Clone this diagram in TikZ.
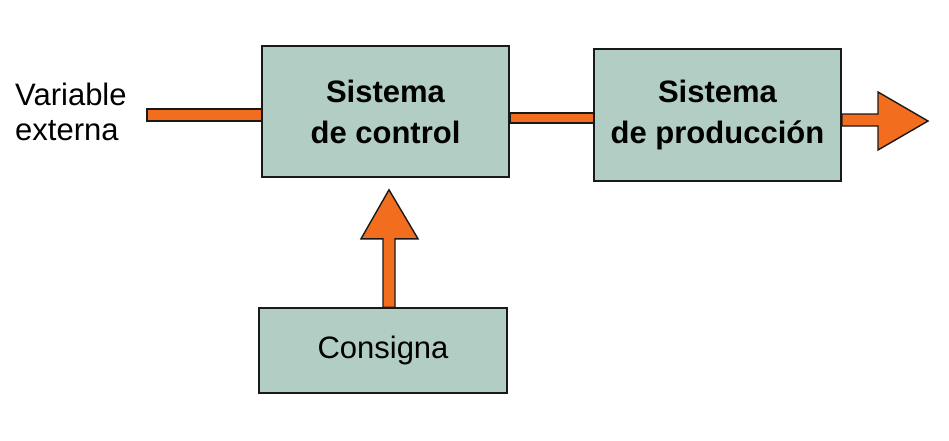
\documentclass[tikz,border=0pt]{standalone}
\usepackage{fontspec}
\setmainfont{Liberation Sans}
\usetikzlibrary{calc}
\definecolor{boxfill}{RGB}{178,206,196}
\definecolor{arrorange}{RGB}{242,110,30}
\tikzset{
  blockbox/.style={draw=black!90, line width=1.6pt, fill=boxfill, inner sep=0pt, align=center},
  bar/.style={draw=black!90, line width=1.4pt, fill=arrorange, line join=miter},
  boldtxt/.style={font=\bfseries\fontsize{31}{41}\selectfont},
  plaintxt/.style={font=\fontsize{31}{35}\selectfont}
}
\begin{document}
\begin{tikzpicture}[x=1pt,y=-1pt]
\useasboundingbox (0,0) rectangle (949,440);
\fill[white] (0,0) rectangle (949,440);
% node placeholders (for anchors)
\path (385.5,111.5) node[blockbox, minimum width=247pt, minimum height=131pt, draw=none, fill=none] (b1) {};
\path (717.5,115) node[blockbox, minimum width=247pt, minimum height=132pt, draw=none, fill=none] (b2) {};
\path (383,350.5) node[blockbox, minimum width=248pt, minimum height=85pt, draw=none, fill=none] (b3) {};
\coordinate (vin) at (147,115);
\coordinate (vout) at (928,121);
\coordinate (tip) at ($(b1.south)+(3.5,12)$);
% connectors
\draw[bar] ($(vin)+(0,-6)$) rectangle ($(b1.west)+(0,9.5)$);
\draw[bar] ($(b1.east)+(0,1.5)$) rectangle ($(b2.west)+(0,8)$);
\draw[bar] ($(b2.east)+(0,-1)$) -- ($(vout)+(-50,-7)$) -- ($(vout)+(-50,-29)$) -- (vout)
  -- ($(vout)+(-50,29)$) -- ($(vout)+(-50,5)$) -- ($(b2.east)+(0,11)$) -- cycle;
\draw[bar] (b3.north) -- ($(tip)+(-6,49)$) -- ($(tip)+(-28,49)$) -- (tip)
  -- ($(tip)+(29,49)$) -- ($(tip)+(6,49)$) -- ($(b3.north)+(12,0)$) -- cycle;
% boxes
\node[blockbox, boldtxt, minimum width=247pt, minimum height=131pt] at (b1) {Sistema\\de control};
\node[blockbox, boldtxt, minimum width=247pt, minimum height=132pt] at (b2) {Sistema\\de producción};
\node[blockbox, plaintxt, minimum width=248pt, minimum height=85pt] at (b3) {Consigna};
% label
\node[plaintxt, anchor=west, align=left, inner sep=0pt] (lbl) at (15,112) {Variable\\externa};
\end{tikzpicture}
\end{document}
